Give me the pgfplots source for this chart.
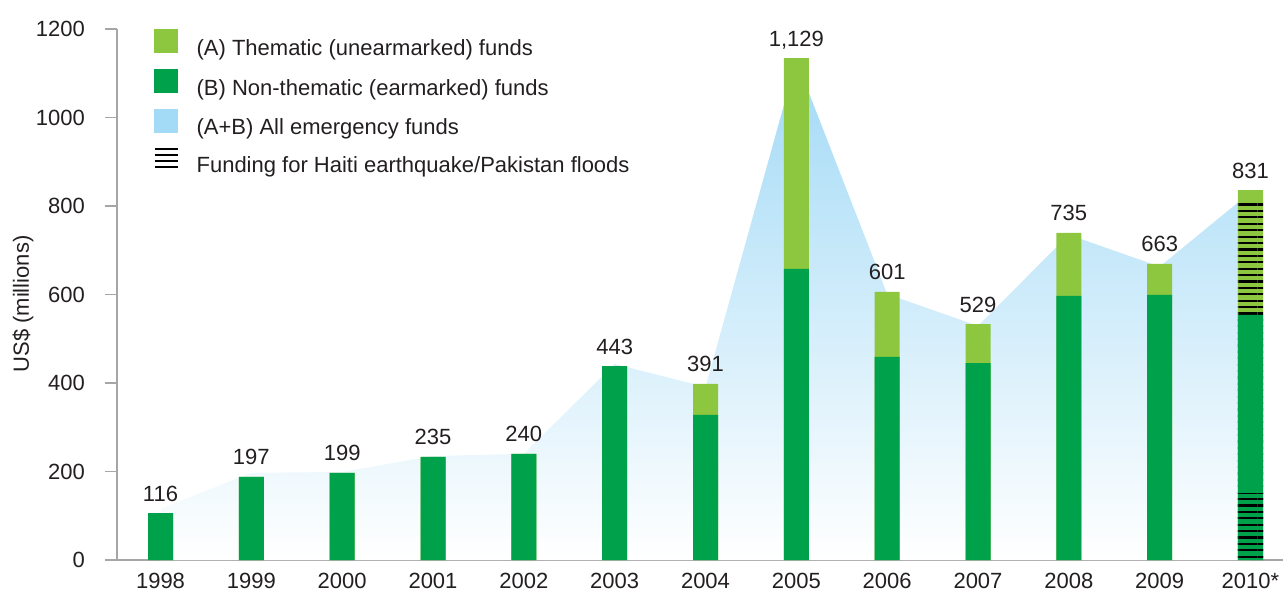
\documentclass[border=0pt]{standalone}
\usepackage{fontspec}
\setmainfont{Liberation Sans}
\usepackage{pgfplots}
\pgfplotsset{compat=1.18}
\usepackage{pgfplotstable}
\usetikzlibrary{patterns.meta}
\definecolor{lgreen}{HTML}{8DC63F}
\definecolor{dgreen}{HTML}{00A14B}
\definecolor{lblue}{HTML}{A3DAF6}
\definecolor{axgray}{HTML}{A6A6A6}
\definecolor{txt}{HTML}{231F20}

\pgfplotstableread{
x total dark area lab
0 106 106 116 116
1 188 188 197 197
2 197 197 199 199
3 233 233 235 235
4 240 240 240 240
5 438 438 443 443
6 398 328 391 391
7 1134 658 1129 {1,129}
8 606 459 601 601
9 533 445 529 529
10 739 597 735 735
11 669 599 663 663
12 836 554 831 831
}\data

\begin{document}
\begin{tikzpicture}[font=\fontsize{11}{13}\selectfont]
\useasboundingbox (-58.5pt,-17.5pt) rectangle (583pt,280pt);
\begin{axis}[
  at={(0,0)}, anchor=south west,
  scale only axis, width=583pt, height=265.5pt,
  xmin=-0.479, xmax=12.358, ymin=0, ymax=1200,
  axis lines*=left,
  axis line style={axgray, line width=0.75pt},
  xtick={0,...,12},
  xticklabels={1998,1999,2000,2001,2002,2003,2004,2005,2006,2007,2008,2009,2010*},
  xtick style={draw=none},
  xticklabel style={yshift=3pt},
  ytick={0,200,...,1200},
  ytick style={axgray, line width=0.75pt},
  yticklabel style={xshift=-6.5pt},
  tick align=outside, major tick length=6pt,
  /pgf/number format/1000 sep={},
  /pgf/number format/assume math mode=true,
  ticklabel style={font=\fontsize{11}{13}\selectfont, text=txt},
  ylabel={US\$ (millions)},
  ylabel style={at={(rel axis cs:0,0.482)}, yshift=47pt, anchor=center, font=\fontsize{11}{13}\selectfont, text=txt},
  legend style={at={(rel axis cs:0,1)}, anchor=north west, xshift=18pt, draw=none, fill=none, inner sep=0pt,
    row sep=5.1pt, nodes={inner sep=0pt, text=txt}, font=\fontsize{11}{13}\selectfont,
    /tikz/every odd column/.append style={column sep=9pt}},
  legend cell align=left,
  clip=false,
]
\addplot[draw=none, top color=lblue, bottom color=white, forget plot] table[x=x,y=area]{\data} \closedcycle;
\addplot[ybar, bar width=12.5pt, bar shift=0pt, fill=lgreen, draw=none, forget plot,
  nodes near coords, point meta=explicit symbolic,
  nodes near coords style={anchor=base, yshift=6pt, font=\fontsize{11}{13}\selectfont, text=txt}]
  table[x=x, y=total, meta=lab]{\data};
\addplot[ybar, bar width=12.5pt, bar shift=0pt, draw=none, forget plot,
  pattern={Lines[angle=0, distance=3.2pt, line width=1.1pt]}, pattern color=black]
  coordinates {(12,809)};
\addplot[ybar, bar width=12.5pt, bar shift=0pt, fill=dgreen, draw=none, forget plot]
  table[x=x, y=dark]{\data};
\addplot[ybar, bar width=12.5pt, bar shift=0pt, draw=none, forget plot,
  pattern={Lines[angle=0, distance=3.2pt, line width=1.1pt]}, pattern color=black]
  coordinates {(12,151)};
\addlegendimage{legend image code/.code={\fill[lgreen] (0pt,-1.75pt) rectangle (11.5pt,9.75pt);}}
\addlegendentry{(A) Thematic (unearmarked) funds}
\addlegendimage{legend image code/.code={\fill[dgreen] (0pt,-1.75pt) rectangle (11.5pt,9.75pt);}}
\addlegendentry{(B) Non-thematic (earmarked) funds}
\addlegendimage{legend image code/.code={\fill[lblue] (0pt,-1.75pt) rectangle (11.5pt,9.75pt);}}
\addlegendentry{(A+B) All emergency funds}
\addlegendimage{legend image code/.code={\foreach \yy in {-0.4,2.5,5.4,8.3}{\draw[black,line width=1.1pt] (0pt,\yy pt) -- (11.5pt,\yy pt);}}}
\addlegendentry{Funding for Haiti earthquake/Pakistan floods}
\end{axis}
\end{tikzpicture}
\end{document}
